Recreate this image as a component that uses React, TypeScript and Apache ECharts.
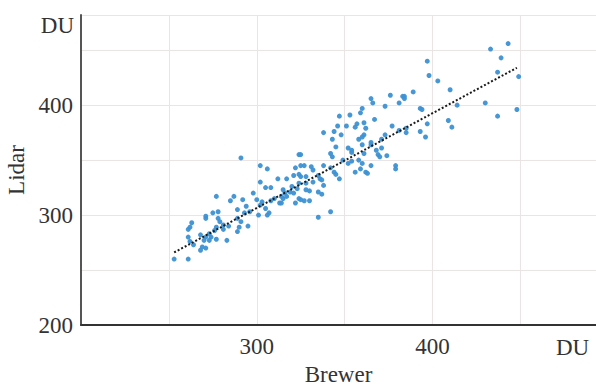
import React, { useEffect, useRef } from "react";
import * as echarts from "echarts";

const brewer = [
  291, 302, 306, 312, 302, 305, 308, 315, 298, 277, 287, 285, 292, 300, 303, 308, 310, 313, 314, 302, 305, 294, 289, 296, 293, 301, 306, 307, 275, 278, 271, 271, 278, 279, 289, 291, 281, 284, 281, 277, 290, 295, 263, 262, 261, 276, 273, 289, 268, 274, 271, 261, 277, 283, 270, 273, 269, 268, 271, 262, 264, 253, 261,
  324, 325, 342, 343, 354, 361, 369, 370, 374, 349, 352, 354, 358, 360, 365, 379, 379, 322, 325, 327, 331, 332, 338, 342, 344, 345, 347, 356, 359, 362, 363, 317, 321, 324, 325, 328, 335, 336, 337, 338, 324, 328, 332, 320, 323, 328, 330, 316, 319, 321, 335, 337, 315, 317, 324, 325, 327, 330, 322, 314, 342, 335,
  365, 366, 376, 383, 381, 373, 360, 359, 353, 347, 367, 357, 361, 356, 362, 351, 346, 344, 348, 338, 343, 358, 361, 360, 365, 371, 373, 377, 345, 352, 354, 365, 360, 368, 371,
  433, 443, 439, 397, 398, 437, 449, 403, 410, 389, 384, 384, 414, 430, 393, 394, 448, 437, 409, 411, 397, 385, 381, 385, 393, 396,
];

const lidar = [
  352, 345, 342, 333, 330, 325, 325, 323, 320, 317, 317, 313, 314, 314, 312, 313, 315, 311, 317, 309, 306, 308, 305, 303, 302, 300, 300, 302, 302, 303, 299, 297, 297, 294, 297, 294, 291, 290, 287, 289, 289, 290, 293, 289, 287, 286, 283, 285, 282, 280, 280, 280, 278, 277, 277, 277, 271, 268, 270, 276, 273, 260, 260,
  355, 355, 356, 353, 357, 356, 355, 353, 354, 350, 347, 349, 350, 347, 345, 345, 342, 343, 345, 345, 344, 341, 345, 343, 339, 337, 333, 339, 342, 339, 338, 333, 336, 337, 335, 335, 336, 333, 332, 327, 329, 329, 330, 326, 324, 323, 322, 320, 321, 320, 321, 319, 315, 317, 315, 314, 313, 313, 311, 311, 303, 298,
  406, 402, 409, 408, 402, 399, 397, 393, 391, 390, 387, 383, 384, 380, 379, 381, 381, 376, 373, 375, 369, 369, 373, 371, 366, 369, 373, 381, 362, 361, 359, 364, 364, 359, 361,
  451, 456, 443, 440, 427, 430, 426, 422, 414, 412, 408, 406, 400, 402, 397, 396, 396, 390, 386, 380, 383, 379, 377, 375, 376, 371,
];

const trendX = [253, 448];
const trendY = [266, 434];

const xLabeled = [300, 400];
const yLabeled = [200, 300, 400];
const unitLabel = "DU";
const xName = "Brewer";
const yName = "Lidar";

const FONT = "Liberation Serif";

export default function App() {
  const ref = useRef<HTMLDivElement>(null);
  useEffect(() => {
    if (!ref.current) return;
    const chart = echarts.init(ref.current, undefined, { renderer: "svg" });
    chart.setOption({
      animation: false,
      backgroundColor: "#ffffff",
      grid: { left: 81, right: 0, top: 15, bottom: 61, containLabel: false, outerBoundsMode: "none" },
      xAxis: {
        type: "value",
        min: 200,
        max: 493,
        interval: 50,
        name: xName,
        nameLocation: "middle",
        nameGap: 38,
        nameTextStyle: { fontFamily: FONT, fontSize: 23, color: "#333", lineHeight: 23 },
        axisLine: { show: true, lineStyle: { color: "#333", width: 2 } },
        axisTick: { show: false },
        axisLabel: {
          margin: 10,
          fontFamily: FONT,
          fontSize: 23,
          color: "#333",
          formatter: (v: number) => (xLabeled.includes(v) ? String(v) : ""),
        },
        splitLine: { show: true, lineStyle: { color: "#ebe4e4", width: 1 } },
      },
      yAxis: {
        type: "value",
        min: 200,
        max: 482,
        interval: 50,
        name: yName,
        nameLocation: "middle",
        nameGap: 49,
        nameTextStyle: { fontFamily: FONT, fontSize: 23, color: "#333" },
        axisLine: { show: true, lineStyle: { color: "#555", width: 2 } },
        axisTick: { show: false },
        axisLabel: {
          margin: 8,
          fontFamily: FONT,
          fontSize: 23,
          color: "#333",
          formatter: (v: number) => (yLabeled.includes(v) ? String(v) : ""),
        },
        splitLine: { show: true, lineStyle: { color: "#ebe4e4", width: 1 } },
      },
      graphic: [
        {
          type: "text",
          right: 596 - 74,
          top: 14,
          style: { text: unitLabel, fontFamily: FONT, fontSize: 23, fill: "#333" },
        },
        {
          type: "text",
          left: 556,
          top: 336,
          style: { text: unitLabel, fontFamily: FONT, fontSize: 23, fill: "#333" },
        },
      ],
      series: [
        {
          type: "scatter",
          data: brewer.map((x, i) => [x, lidar[i]]),
          symbolSize: 5,
          itemStyle: { color: "#3d91d3", opacity: 0.95 },
          z: 2,
        },
        {
          type: "line",
          data: trendX.map((x, i) => [x, trendY[i]]),
          showSymbol: false,
          symbol: "none",
          lineStyle: { color: "#1a1a1a", width: 2, type: [2, 2] },
          z: 3,
        },
      ],
    });
    return () => chart.dispose();
  }, []);
  return <div ref={ref} style={{ width: 596, height: 386, position: "absolute", left: 0, top: 0 }} />;
}
